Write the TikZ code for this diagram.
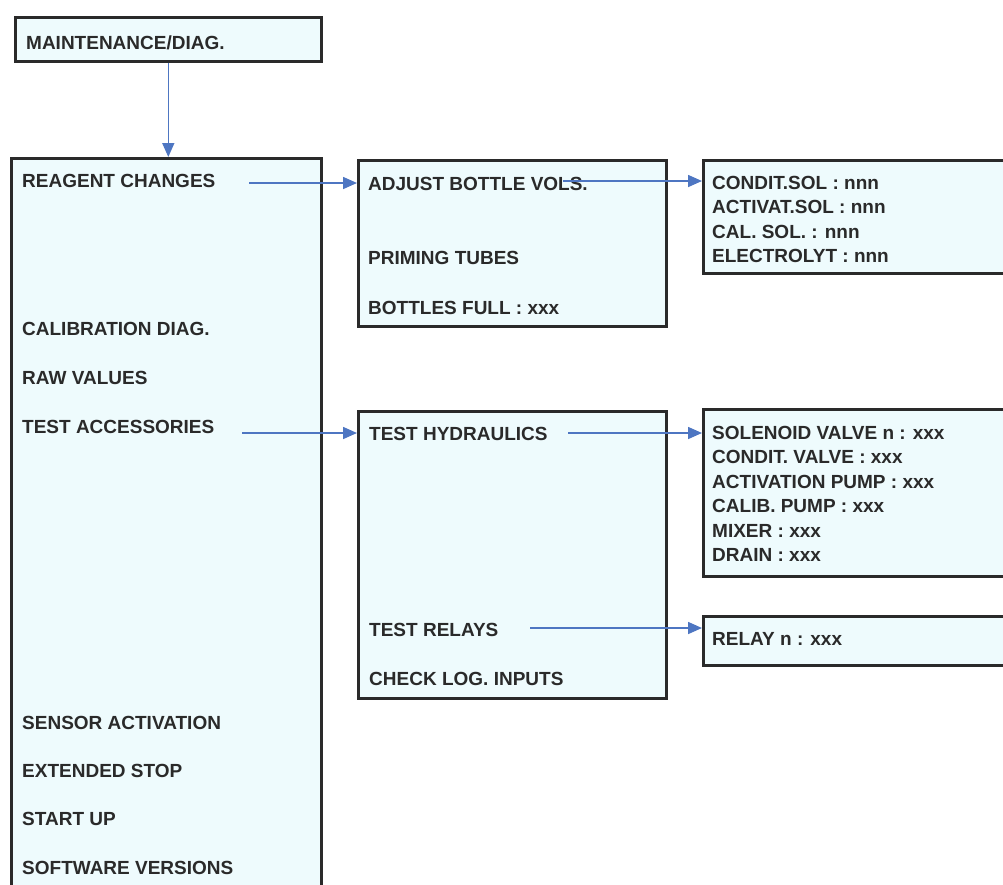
\documentclass[tikz,border=0pt]{standalone}
\usepackage{fontspec}
\setmainfont{Liberation Sans}
\usetikzlibrary{arrows.meta,positioning,calc}
\definecolor{mnuink}{HTML}{2A2A2A}
\definecolor{mnusoft}{HTML}{EEFBFD}
\definecolor{mnublue}{HTML}{4E76C2}

\begin{document}
\begin{tikzpicture}[x=1pt, y=-1pt,
  font=\fontsize{19}{24.4}\selectfont\bfseries, text=mnuink,
  menubox/.style={draw=mnuink, fill=mnusoft, line width=2.6pt, anchor=north west, inner sep=0pt},
  item/.style={anchor=base west, inner sep=0pt},
  block/.style={anchor=north west, inner sep=0pt, align=left},
  link/.style={-{Triangle[length=14pt, width=12pt]}, mnublue, line width=1.6pt}]
  \useasboundingbox (0,0) rectangle (1003,884);
  \clip (0,0) rectangle (1003,884);

  \node[menubox, minimum width=306pt, minimum height=44pt] (top) at (14,16) {};
  \node[menubox, minimum width=310pt, minimum height=800pt] (main) at (10,157) {};
  \node[menubox, minimum width=308pt, minimum height=166pt] (adj) at (357,159) {};
  \node[menubox, minimum width=360pt, minimum height=113pt] (sol) at (702,159) {};
  \node[menubox, minimum width=308pt, minimum height=287pt] (tst) at (357,410) {};
  \node[menubox, minimum width=360pt, minimum height=167pt] (hyd) at (702,408) {};
  \node[menubox, minimum width=360pt, minimum height=49pt] (rel) at (702,615) {};

  \node[item] (mnt) at (26,49) {MAINTENANCE/DIAG.};

  \node[item] (reag) at (22,187) {REAGENT CHANGES};
  \node[item] (cal) at (22,335) {CALIBRATION DIAG.};
  \node[item] (raw) at (22,384) {RAW VALUES};
  \node[item] (acc) at (22,433) {TEST ACCESSORIES};
  \node[item] (sens) at (22,729) {SENSOR ACTIVATION};
  \node[item] (ext) at (22,777) {EXTENDED STOP};
  \node[item] (start) at (22,825) {START UP};
  \node[item] (soft) at (22,874) {SOFTWARE VERSIONS};

  \node[item] (vols) at (368,190) {ADJUST BOTTLE VOLS.};
  \node[item] (prime) at (368,264) {PRIMING TUBES};
  \node[item] (full) at (368,314) {BOTTLES FULL : xxx};

  \node[block] (sols) at (712,176) {CONDIT.SOL : nnn\\ACTIVAT.SOL : nnn\\CAL. SOL. : nnn\\ELECTROLYT : nnn};

  \node[item] (hydr) at (369,440) {TEST HYDRAULICS};
  \node[item] (rly) at (369,636) {TEST RELAYS};
  \node[item] (logi) at (369,685) {CHECK LOG. INPUTS};

  \node[block] (valves) at (712,426) {SOLENOID VALVE n : xxx\\CONDIT. VALVE : xxx\\ACTIVATION PUMP : xxx\\CALIB. PUMP : xxx\\MIXER : xxx\\DRAIN : xxx};
  \node[item] (rlyn) at (712,645) {RELAY n : xxx};

  \coordinate (reagout) at (249,183);
  \coordinate (volsout) at (563,181);
  \coordinate (accout) at (242,433);
  \coordinate (hydrout) at (568,433);
  \coordinate (rlyout) at (530,628);

  \draw[link] (top.south) -- (top.south |- main.north);
  \draw[link] (reagout) -- (reagout -| adj.west);
  \draw[link] (volsout) -- (volsout -| sol.west);
  \draw[link] (accout) -- (accout -| tst.west);
  \draw[link] (hydrout) -- (hydrout -| hyd.west);
  \draw[link] (rlyout) -- (rlyout -| rel.west);
\end{tikzpicture}
\end{document}
